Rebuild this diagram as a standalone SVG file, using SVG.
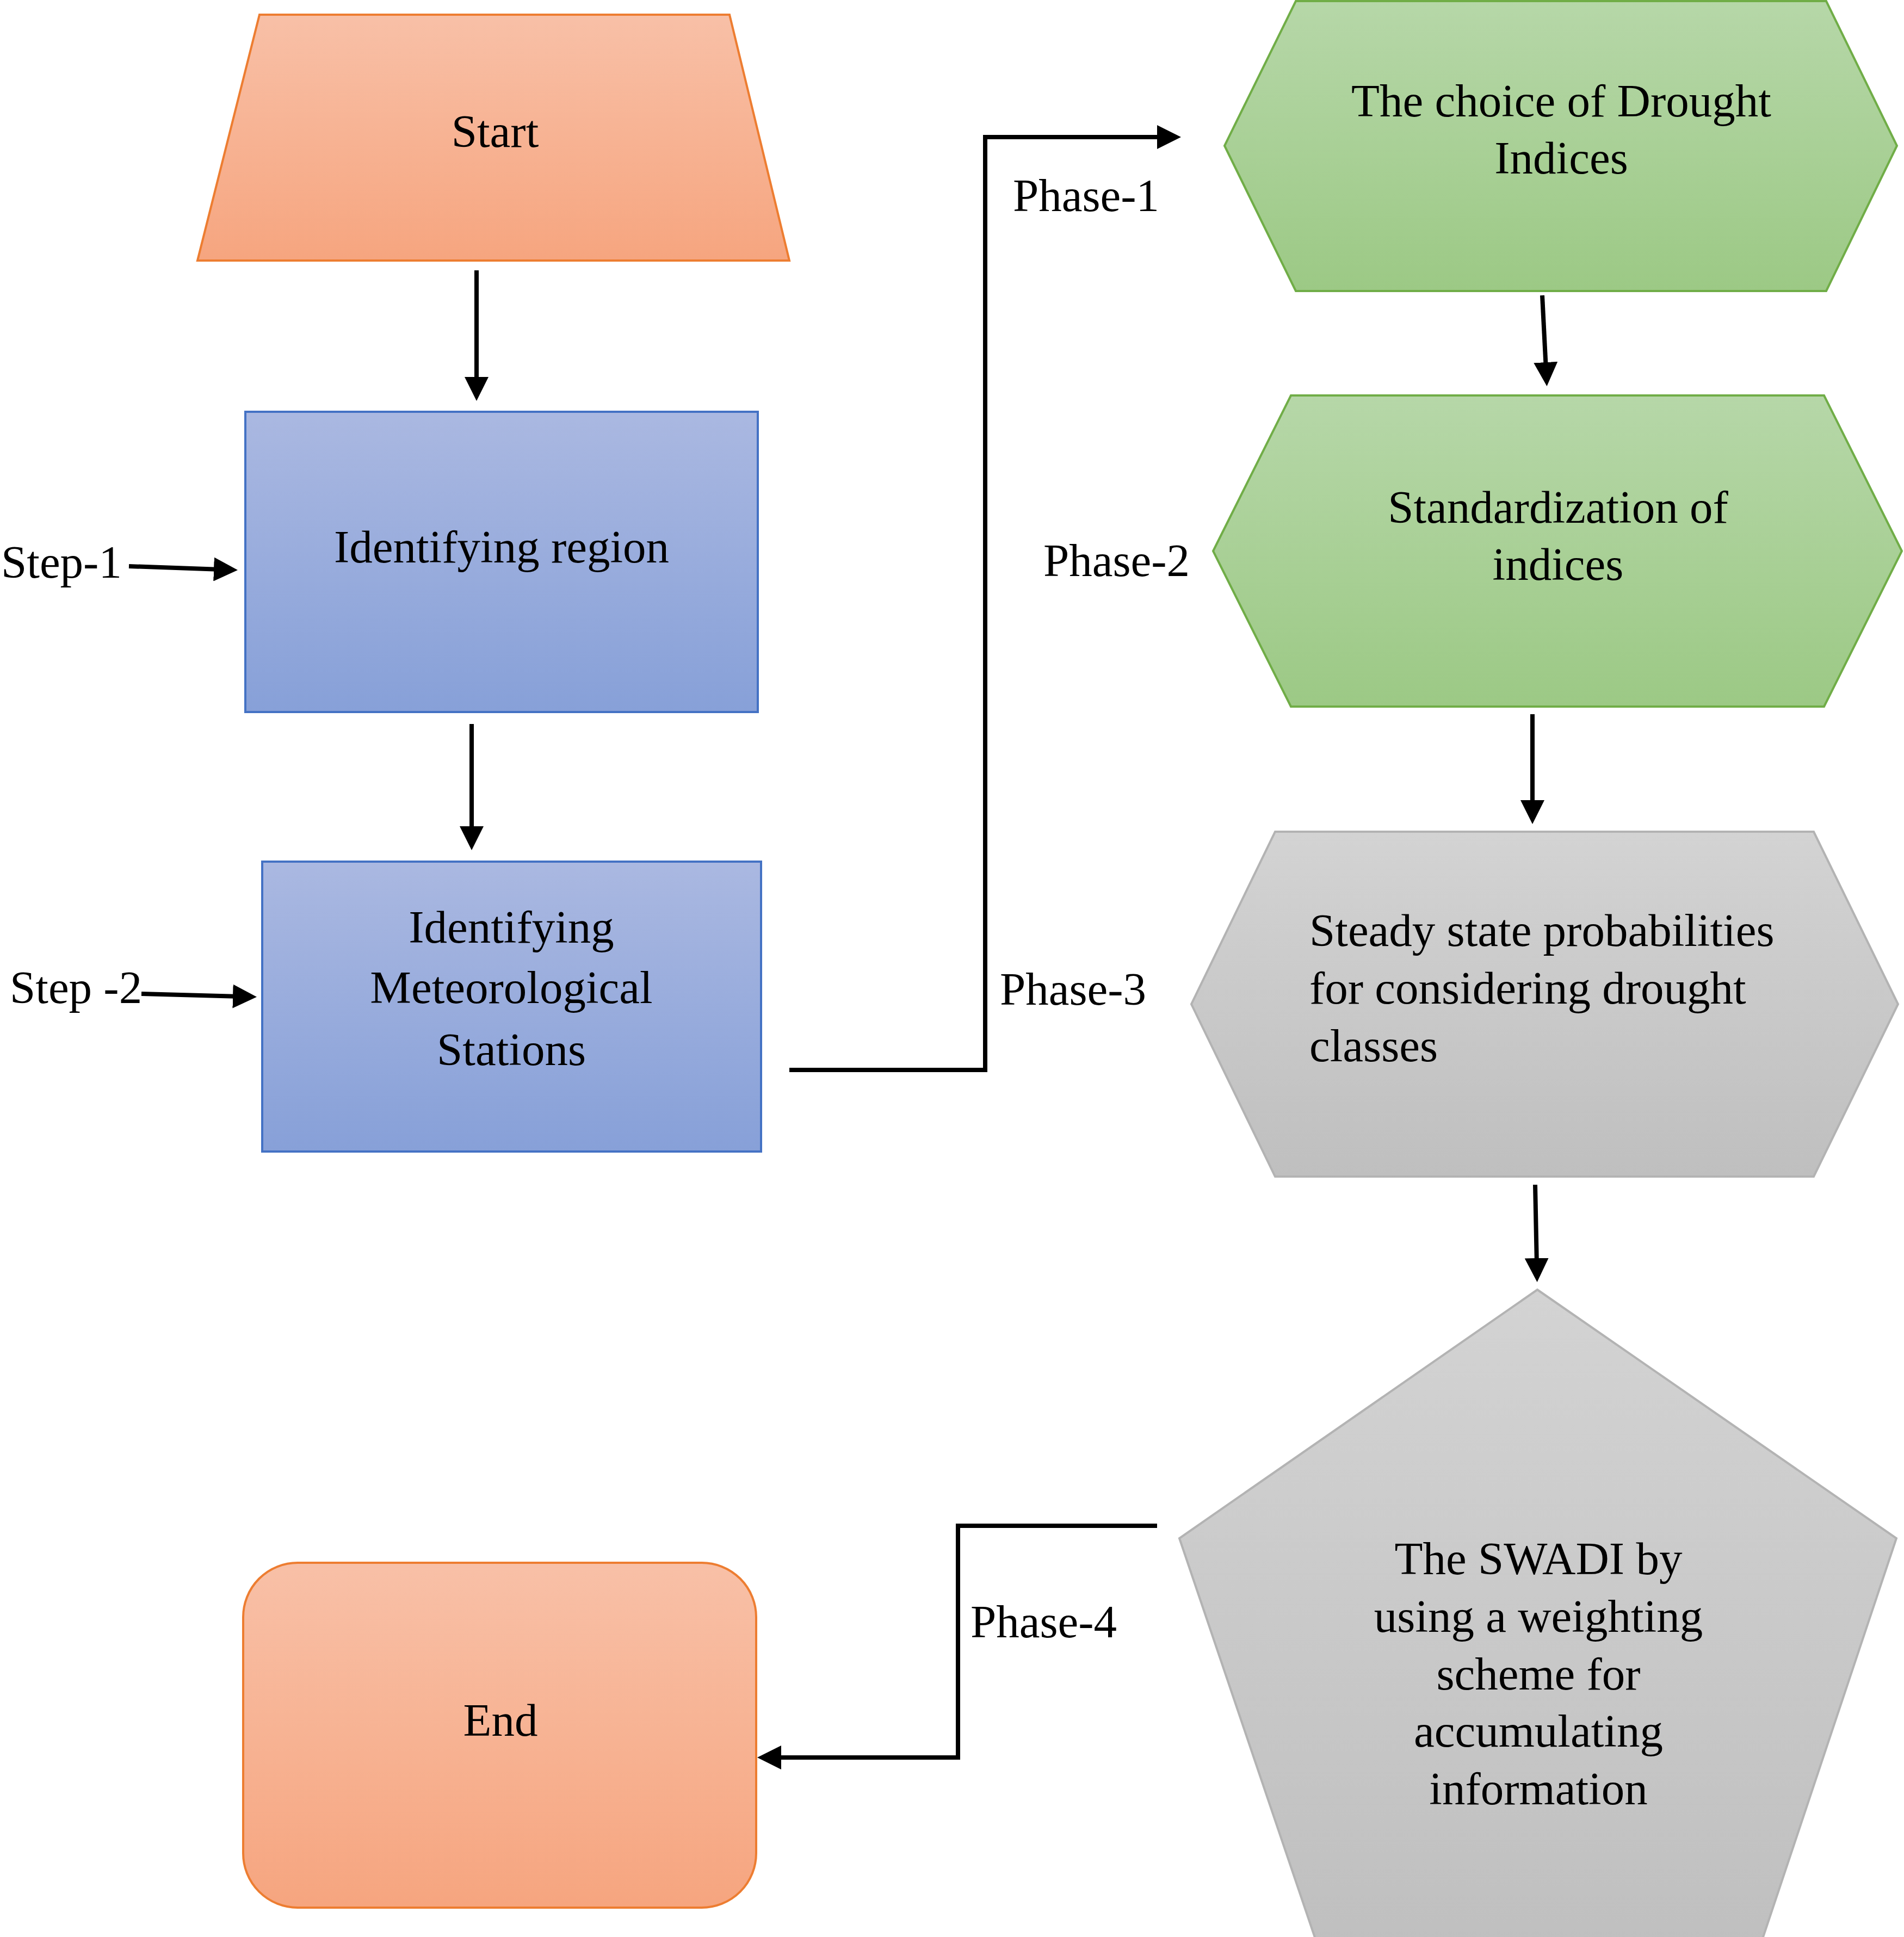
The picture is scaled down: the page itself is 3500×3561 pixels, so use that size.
<svg xmlns="http://www.w3.org/2000/svg" width="3500" height="3561" viewBox="0 0 3500 3561">
<defs>
<linearGradient id="gOrange" x1="0" y1="0" x2="0" y2="1"><stop offset="0" stop-color="#f8c0a7"/><stop offset="1" stop-color="#f6a57f"/></linearGradient>
<linearGradient id="gBlue" x1="0" y1="0" x2="0" y2="1"><stop offset="0" stop-color="#aab8e1"/><stop offset="1" stop-color="#87a0d8"/></linearGradient>
<linearGradient id="gGreen" x1="0" y1="0" x2="0" y2="1"><stop offset="0" stop-color="#b6d7a8"/><stop offset="1" stop-color="#9cc985"/></linearGradient>
<linearGradient id="gGray" x1="0" y1="0" x2="0" y2="1"><stop offset="0" stop-color="#d3d3d3"/><stop offset="1" stop-color="#bfbfbf"/></linearGradient>
<marker id="arrow" viewBox="0 0 44 44" refX="14" refY="22" markerWidth="44" markerHeight="44" markerUnits="userSpaceOnUse" orient="auto">
<path d="M0,0 L44,22 L0,44 Z" fill="#000"/>
</marker>
</defs>
<style>
text{font-family:"Liberation Serif","Times New Roman",serif;font-size:85px;fill:#000}
.c{text-anchor:middle}
.orange{fill:url(#gOrange);stroke:#ed7d31;stroke-width:4}
.blue{fill:url(#gBlue);stroke:#4472c4;stroke-width:4}
.green{fill:url(#gGreen);stroke:#70ad47;stroke-width:4}
.gray{fill:url(#gGray);stroke:#b3b3b3;stroke-width:4}
.conn{fill:none;stroke:#000;stroke-width:8}
.arr{marker-end:url(#arrow)}
</style>
<rect width="3500" height="3561" fill="#fff"/>

<g id="start">
<polygon class="orange" points="477,27 1341,27 1451,479 363,479"/>
<text class="c" x="910" y="270">Start</text>
</g>

<g id="identifying-region">
<rect class="blue" x="451" y="757" width="942" height="552"/>
<text class="c" x="922" y="1034">Identifying region</text>
</g>

<g id="identifying-stations">
<rect class="blue" x="482" y="1584" width="917" height="533"/>
<text class="c" x="940" y="1733">Identifying</text>
<text class="c" x="940" y="1844">Meteorological</text>
<text class="c" x="940" y="1958">Stations</text>
</g>

<g id="drought-indices">
<polygon class="green" points="2382,2 3357,2 3487,268 3357,535 2382,535 2251,268"/>
<text class="c" x="2870" y="214">The choice of Drought</text>
<text class="c" x="2870" y="319">Indices</text>
</g>

<g id="standardization">
<polygon class="green" points="2373,727 3353,727 3496,1013 3353,1299 2373,1299 2230,1013"/>
<text class="c" x="2864" y="961">Standardization of</text>
<text class="c" x="2864" y="1066">indices</text>
</g>

<g id="steady-state">
<polygon class="gray" points="2344,1529 3334,1529 3489,1846 3334,2163 2344,2163 2190,1846"/>
<text x="2407" y="1739">Steady state probabilities</text>
<text x="2407" y="1845">for considering drought</text>
<text x="2407" y="1951">classes</text>
</g>

<g id="swadi">
<polygon class="gray" points="2826,2371 3486,2828 3228,3600 2430,3600 2168,2828"/>
<text class="c" x="2828" y="2894">The SWADI by</text>
<text class="c" x="2828" y="3000">using a weighting</text>
<text class="c" x="2828" y="3106">scheme for</text>
<text class="c" x="2828" y="3211">accumulating</text>
<text class="c" x="2828" y="3317">information</text>
</g>

<g id="end">
<rect class="orange" x="447" y="2873" width="943" height="634" rx="100" ry="100"/>
<text class="c" x="920" y="3191">End</text>
</g>

<g id="labels">
<text x="2" y="1062">Step-1</text>
<text x="18" y="1844">Step -2</text>
<text x="1862" y="388">Phase-1</text>
<text x="1918" y="1059">Phase-2</text>
<text x="1838" y="1847">Phase-3</text>
<text x="1784" y="3010">Phase-4</text>
</g>

<g id="connectors">
<line class="conn arr" x1="876" y1="497" x2="876" y2="707"/>
<line class="conn arr" x1="237" y1="1041" x2="407" y2="1047"/>
<line class="conn arr" x1="867" y1="1331" x2="867" y2="1533"/>
<line class="conn arr" x1="260" y1="1827" x2="442" y2="1832"/>
<path class="conn arr" d="M1451,1967 H1811 V252 H2141"/>
<line class="conn arr" x1="2835" y1="543" x2="2842" y2="680"/>
<line class="conn arr" x1="2817" y1="1313" x2="2817" y2="1485"/>
<line class="conn arr" x1="2822" y1="2178" x2="2825" y2="2327"/>
<path class="conn arr" d="M2127,2805 H1761 V3231 H1422"/>
</g>
</svg>
